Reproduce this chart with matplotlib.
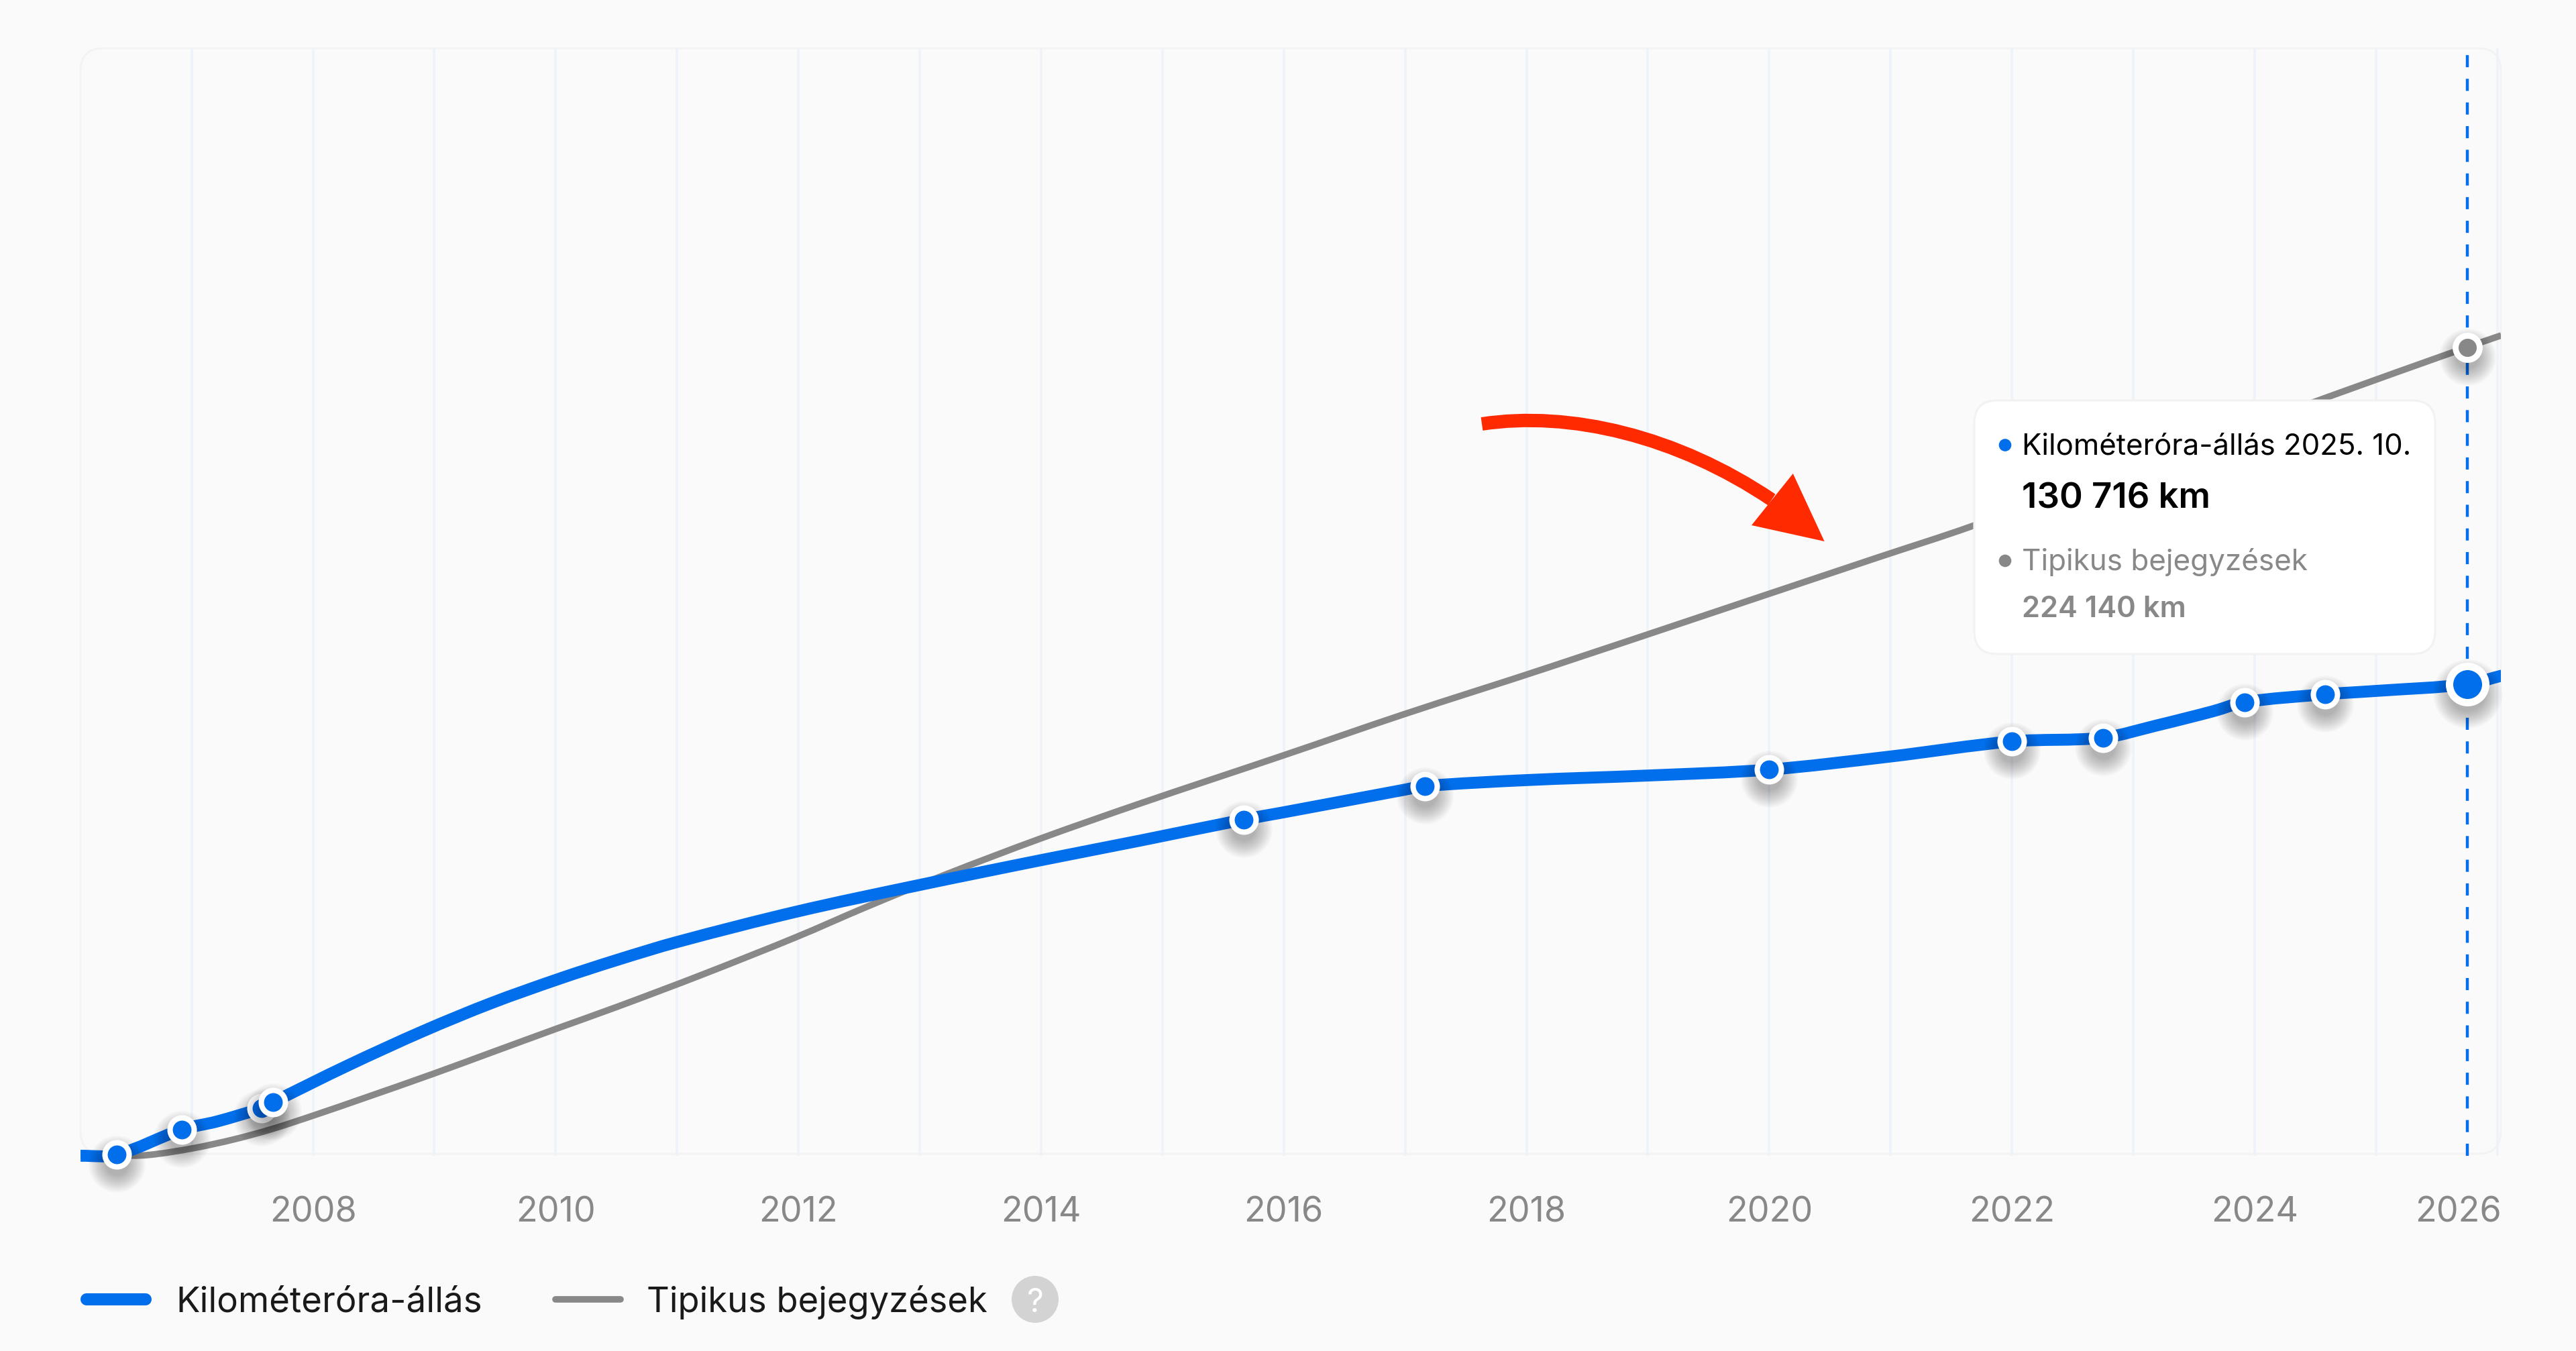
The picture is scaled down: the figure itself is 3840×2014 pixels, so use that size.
import matplotlib
matplotlib.use("Agg")
import matplotlib.pyplot as plt
from matplotlib.lines import Line2D
from matplotlib.patches import Circle, FancyBboxPatch, PathPatch, Polygon
from matplotlib.path import Path
from matplotlib.transforms import Affine2D

W, H = 3840, 2014
plt.rcParams['font.family'] = ['Inter', 'DejaVu Sans']
plt.rcParams['lines.scale_dashes'] = False

BLUE = '#016fec'
GREY = '#888888'
RED = '#ff2a00'
GRID = '#eef3f9'

# odometer curve (year, km)
odo_years = [2006.085, 2006.383, 2006.917, 2007.212, 2007.579, 2007.669, 2008.285, 2008.904,
             2009.468, 2010.032, 2010.507, 2011.005, 2011.988, 2012.989, 2013.992, 2014.820,
             2015.672, 2015.989, 2016.991, 2017.165, 2017.992, 2018.992, 2019.997, 2020.988,
             2021.999, 2022.751, 2023.188, 2023.663, 2023.916, 2024.581, 2024.999, 2025.751,
             2026.040]
odo_km = [0, 300, 7252, 9539, 13258, 14820, 25000, 34500,
          42300, 49100, 54300, 59300, 67700, 75000, 81900, 87400,
          93213, 95150, 101450, 102510, 104128, 105400, 107047, 110636,
          114857, 115898, 119245, 123280, 125753, 127929, 128858, 130716,
          133135]

# the actual readings that get a dot
reading_years = [2006.383, 2006.917, 2007.579, 2007.669, 2015.672, 2017.165,
                 2019.997, 2021.999, 2022.751, 2023.916, 2024.581]
reading_km = [300, 7252, 13258, 14820, 93213, 102510,
              107047, 114857, 115898, 125753, 127929]

typical_years = [2006.085, 2006.383, 2006.648, 2007.013, 2007.354, 2007.664, 2008.003, 2008.426,
                 2008.989, 2009.468, 2010.004, 2010.507, 2011.214, 2011.988, 2012.541, 2013.216,
                 2013.992, 2014.820, 2015.989, 2016.991, 2018.174, 2020.899, 2021.668, 2024.584,
                 2025.751, 2026.032]
typical_km = [0, 0, 240, 2101, 4593, 7438, 11157, 16047,
              22700, 28600, 35200, 41300, 50300, 60700, 68700, 78000,
              87900, 97700, 110900, 122400, 135300, 165900, 174500, 210100,
              224140, 227408]

grid_years = list(range(2007, 2027))
tick_years = [2008, 2010, 2012, 2014, 2016, 2018, 2020, 2022, 2024, 2026]
selected_year = 2025.751
selected_odo = 130716
selected_typical = 224140


def smooth_path(xs, ys):
    # cubic segments through the read points, same idea as the site's curve
    slopes = []
    for i in range(len(xs)):
        a = max(i - 1, 0)
        b = min(i + 1, len(xs) - 1)
        slopes.append((ys[b] - ys[a]) / (xs[b] - xs[a]))
    verts = [(xs[0], ys[0])]
    codes = [Path.MOVETO]
    for i in range(len(xs) - 1):
        dx = (xs[i + 1] - xs[i]) / 3
        verts += [(xs[i] + dx, ys[i] + slopes[i] * dx),
                  (xs[i + 1] - dx, ys[i + 1] - slopes[i + 1] * dx),
                  (xs[i + 1], ys[i + 1])]
        codes += [Path.CURVE4] * 3
    return Path(verts, codes)


fig = plt.figure(figsize=(W / 100, H / 100), dpi=100, facecolor='#fafafa')
# pixel coordinates of the reference, origin at top left
px = Affine2D().scale(1, -1).translate(0, H)
ax = fig.add_axes([120 / W, 1 - 1760 / H, 3608 / W, 1688 / H])
ax.patch.set_visible(False)
for s in ax.spines.values():
    s.set_visible(False)
ax.set_xlim(2006.0846, 2026.029)
ax.set_ylim(-6880, 306991)

# plot frame
box = FancyBboxPatch((120, 72), 3608, 1648, boxstyle='round,pad=0,rounding_size=34',
                     fc='#fafafb', ec='#f3f3f4', lw=2.2, transform=px, zorder=0)
fig.add_artist(box)

ax.vlines(grid_years, 0, 306991, color=GRID, lw=2.6, zorder=1)
ax.add_patch(PathPatch(smooth_path(typical_years, typical_km), fc='none', ec=GREY, lw=7, zorder=2))
ax.add_patch(PathPatch(smooth_path(odo_years, odo_km), fc='none', ec=BLUE, lw=12.8, zorder=3))
ax.vlines(selected_year, 0, 306991, color=BLUE, lw=3.2, linestyles=[(0, (13, 12.4))], zorder=4)


def dot(x, y, color, ms, mew, z):
    # blurred shadow is just a stack of faint circles shifted down
    tr = ax.transData + Affine2D().translate(0, -14)
    for d in range(int(ms), int(ms + 39), 3):
        ax.plot([x], [y], 'o', ms=d, color='black', alpha=0.022, mew=0, transform=tr,
                clip_on=False, zorder=z)
    ax.plot([x], [y], 'o', ms=ms, color=color, mec='white', mew=mew, clip_on=False, zorder=z)


z = 5
for x, y in zip(reading_years, reading_km):
    dot(x, y, BLUE, 25.9, 5.8, z)
    z += 0.01
dot(selected_year, selected_typical, GREY, 25.9, 6.4, 6)
dot(selected_year, selected_odo, BLUE, 38.9, 7.9, 6.1)

ax.set_xticks(tick_years)
ax.set_xticklabels([str(y) for y in tick_years], fontsize=37.5, color=GREY)
ax.tick_params(axis='x', length=0, pad=17)
ax.set_yticks([])
last = ax.get_xticklabels()[-1]
last.set_ha('right')
last.set_transform(last.get_transform() + Affine2D().translate(6, 0))

# red arrow
shaft = Path([(2209, 632), (2340, 612), (2500, 650), (2641, 745)],
             [Path.MOVETO, Path.CURVE4, Path.CURVE4, Path.CURVE4])
fig.add_artist(PathPatch(shaft, fc='none', ec=RED, lw=14.4, capstyle='butt', transform=px, zorder=7))
fig.add_artist(Polygon([(2719.6, 807), (2672.8, 706), (2611, 783)], closed=True, fc=RED, ec='none',
                       transform=px, zorder=7))

# tooltip
fig.add_artist(FancyBboxPatch((2943, 597), 687, 378, boxstyle='round,pad=0,rounding_size=34',
                              fc='white', ec='#f2f2f2', lw=2.2, transform=px, zorder=8))
fig.add_artist(Circle((2989, 663.5), 9.3, fc=BLUE, ec='none', transform=px, zorder=9))
fig.add_artist(Circle((2989, 836), 9.3, fc=GREY, ec='none', transform=px, zorder=9))
fig.text(3014, 678, 'Kilométeróra-állás 2025. 10.', transform=px, fontsize=31.5, color='black', zorder=9)
fig.text(3014, 757, '130 716 km', transform=px, fontsize=38, fontweight='semibold', color='black', zorder=9)
fig.text(3014, 850, 'Tipikus bejegyzések', transform=px, fontsize=31.7, color=GREY, zorder=9)
fig.text(3014, 920, '224 140 km', transform=px, fontsize=31.3, fontweight='semibold', color=GREY, zorder=9)

# legend
fig.add_artist(Line2D([129, 217], [1937, 1937], color=BLUE, lw=13, solid_capstyle='round', transform=px))
fig.text(262, 1956, 'Kilométeróra-állás', transform=px, fontsize=38, color='#1a1a1a')
fig.add_artist(Line2D([828, 925], [1937, 1937], color=GREY, lw=7, solid_capstyle='round', transform=px))
fig.text(964, 1956, 'Tipikus bejegyzések', transform=px, fontsize=37.8, color='#1a1a1a')
fig.add_artist(Circle((1543, 1937), 35, fc='#d3d3d3', ec='none', transform=px))
fig.text(1543, 1956, '?', transform=px, fontsize=35, color='white', ha='center')

fig.savefig('out.png', dpi=100, facecolor=fig.get_facecolor())
